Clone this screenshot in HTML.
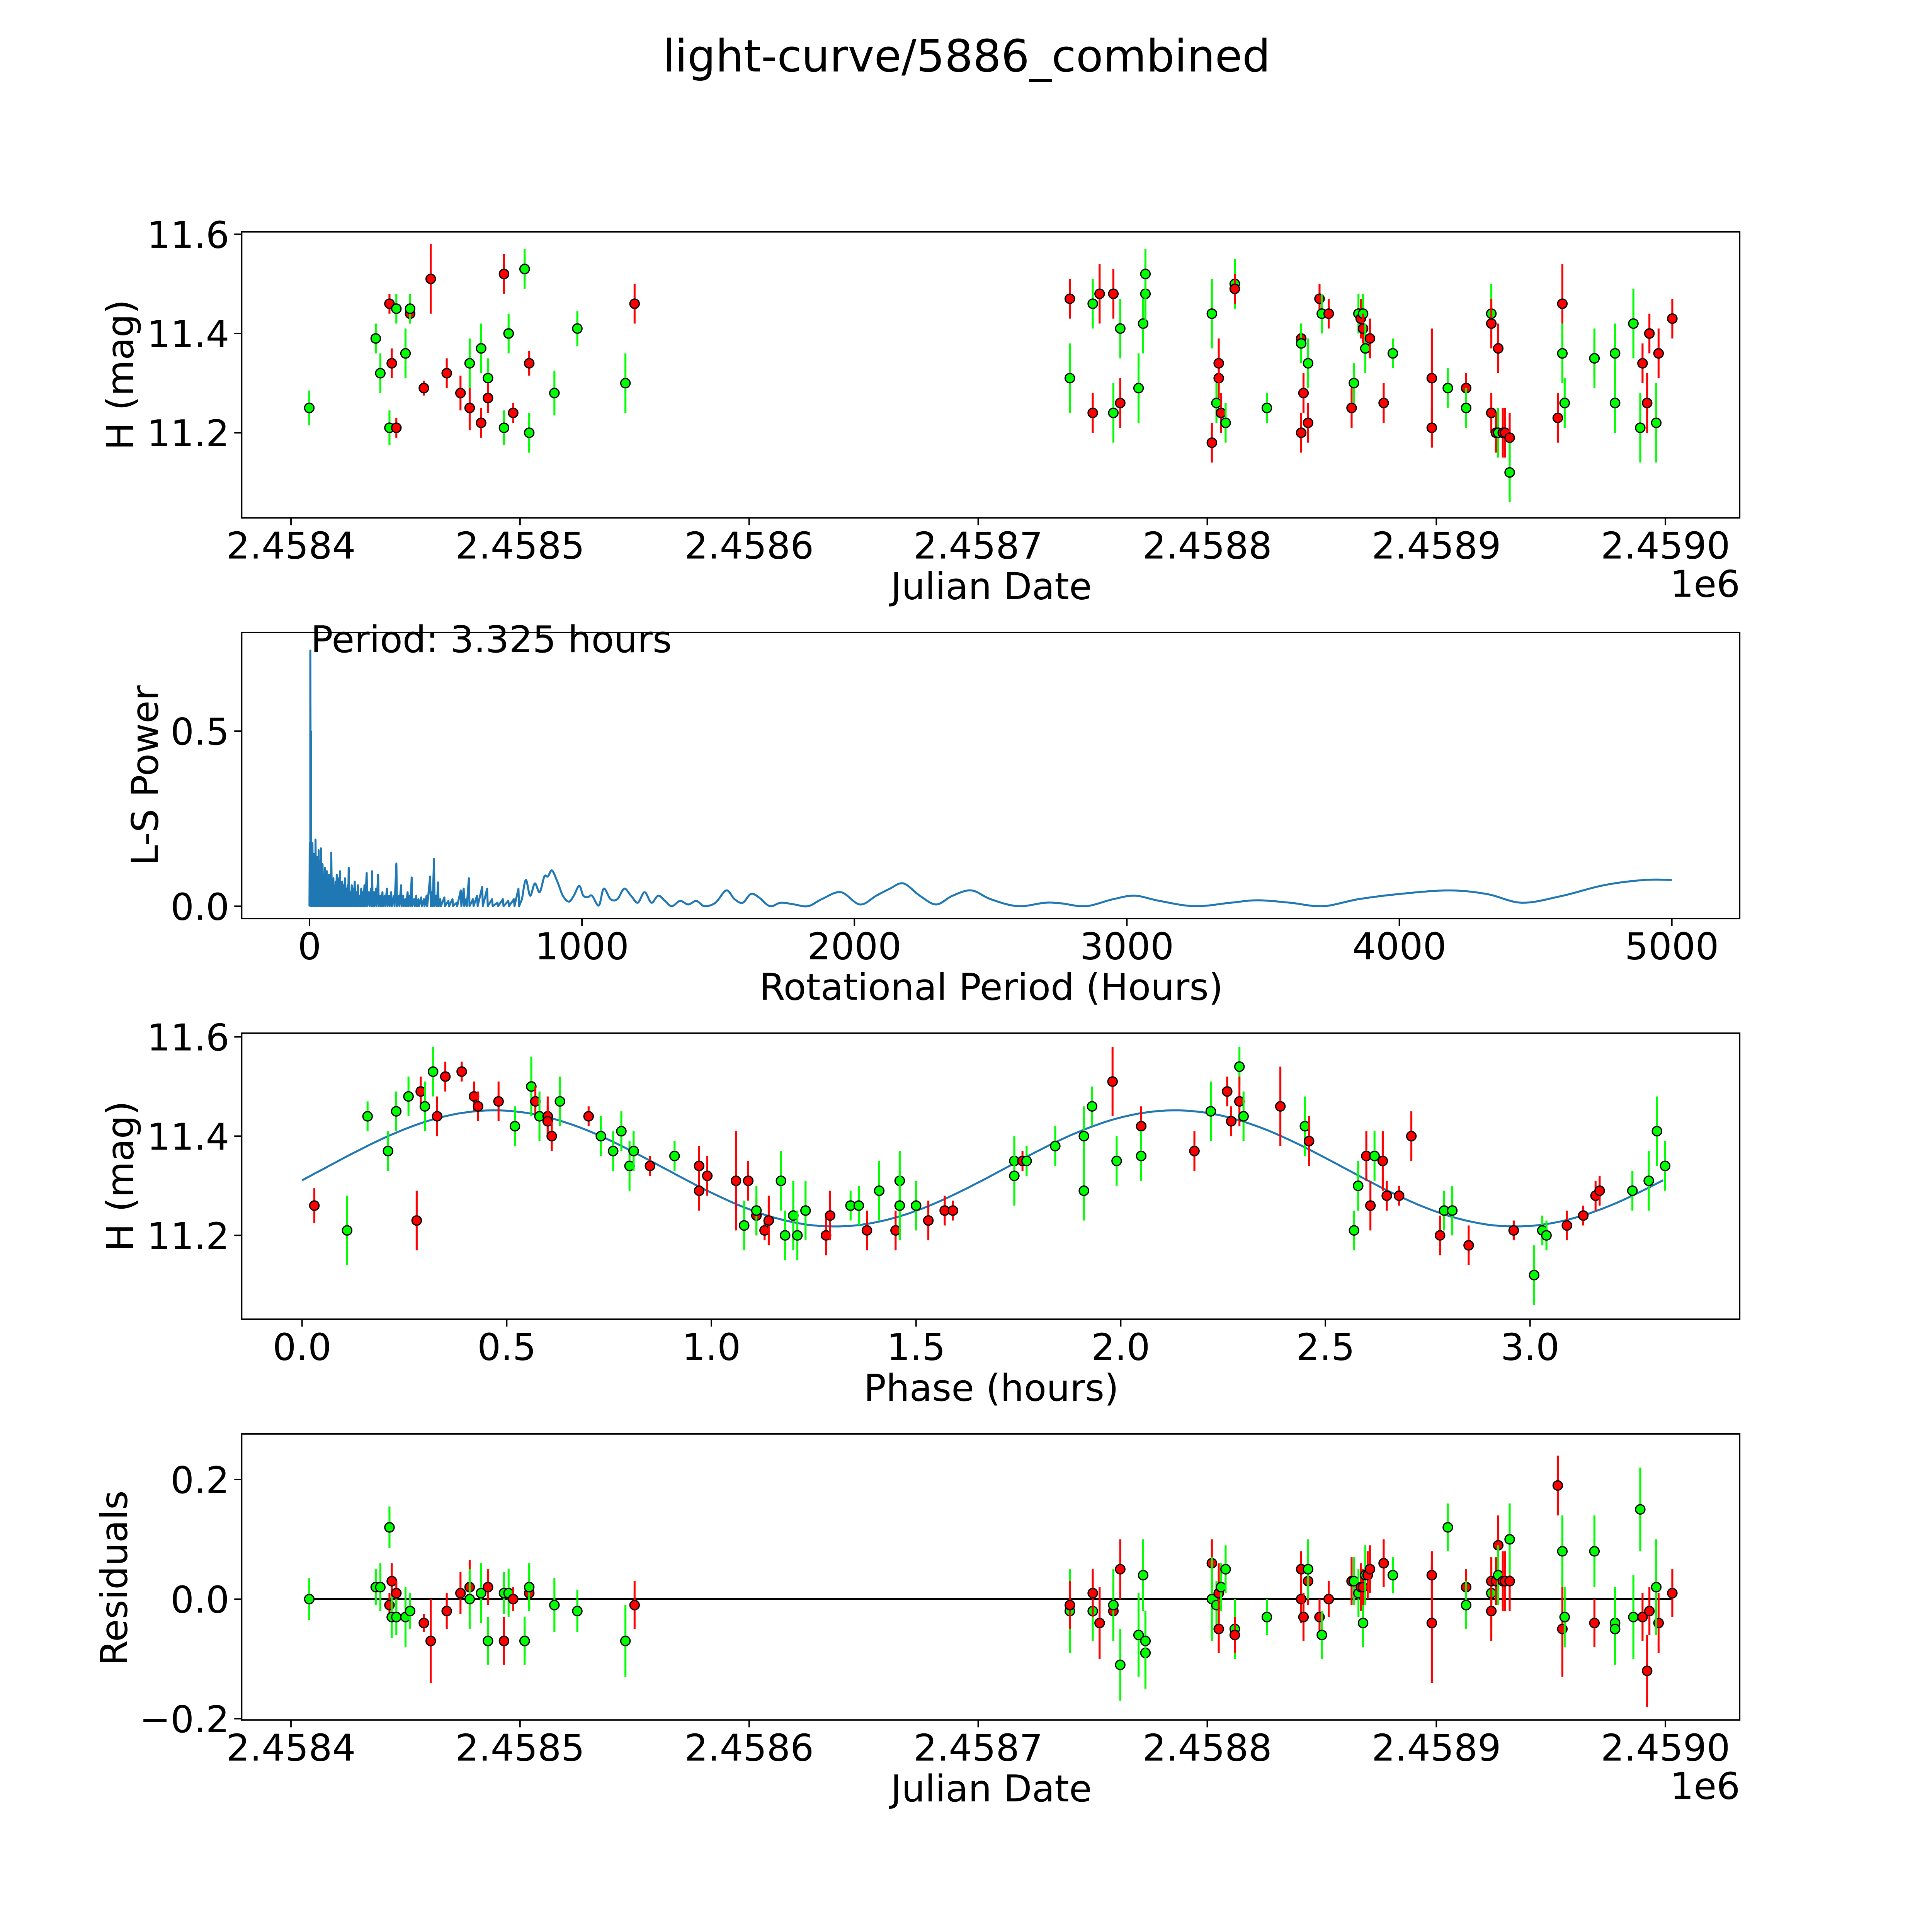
<!DOCTYPE html>
<html><head><meta charset="utf-8"><style>
html,body{margin:0;padding:0;background:#fff;overflow:hidden;width:100vw;height:100vh}
svg{display:block;width:100vw;height:100vh;font-family:"DejaVu Sans","Liberation Sans",sans-serif}
</style></head><body>
<svg id="fig" viewBox="0 0 1567 1567" preserveAspectRatio="none" xmlns="http://www.w3.org/2000/svg">
<rect width="1567" height="1567" fill="#fff"/>
<text x="784" y="58" font-size="36" text-anchor="middle">light-curve/5886_combined</text>
</svg>
<script>
// ---------- DATA ----------
const jdTicks = [0,100,200,300,400,500,600];
const jdTickLabels = ["2.4584","2.4585","2.4586","2.4587","2.4588","2.4589","2.4590"];
const magTicks = [11.6,11.4,11.2];
const magTickLabels = ["11.6","11.4","11.2"];
// light curve: [days since 2458400, mag, err, color]
const lcPoints = [
[8,11.25,0.035,'g'],[37,11.39,0.03,'g'],[39,11.32,0.04,'g'],[43,11.46,0.02,'r'],[43,11.21,0.035,'g'],[44,11.34,0.03,'r'],[46,11.21,0.02,'r'],[46,11.45,0.03,'g'],[50,11.36,0.05,'g'],[52,11.44,0.02,'r'],[52,11.45,0.03,'g'],
[58,11.29,0.015,'r'],[61,11.51,0.07,'r'],[68,11.32,0.03,'r'],[74,11.28,0.035,'r'],[78,11.25,0.045,'r'],[78,11.34,0.05,'g'],[83,11.22,0.03,'r'],[83,11.37,0.05,'g'],[86,11.31,0.04,'g'],[86,11.27,0.03,'r'],
[93,11.21,0.035,'g'],[93,11.52,0.04,'r'],[95,11.40,0.04,'g'],[97,11.24,0.02,'r'],[102,11.53,0.025,'r'],[102,11.53,0.04,'g'],[104,11.34,0.025,'r'],[104,11.20,0.04,'g'],[115,11.28,0.045,'g'],[125,11.41,0.035,'g'],[146,11.30,0.06,'g'],[150,11.46,0.04,'r'],
[340,11.47,0.04,'r'],[340,11.31,0.07,'g'],[350,11.46,0.05,'g'],[350,11.24,0.04,'r'],[353,11.48,0.06,'r'],[359,11.48,0.05,'r'],[359,11.24,0.06,'g'],[362,11.26,0.05,'r'],[362,11.41,0.06,'g'],[370,11.29,0.07,'g'],[372,11.42,0.06,'g'],[373,11.48,0.06,'g'],[373,11.52,0.05,'g'],
[402,11.44,0.07,'g'],[402,11.18,0.04,'r'],[404,11.26,0.04,'g'],[405,11.31,0.04,'r'],[405,11.34,0.05,'r'],[406,11.24,0.04,'r'],[408,11.22,0.04,'g'],[412,11.50,0.05,'g'],[412,11.49,0.03,'r'],[426,11.25,0.03,'g'],
[441,11.39,0.03,'r'],[441,11.38,0.04,'g'],[441,11.20,0.04,'r'],[442,11.28,0.04,'r'],[444,11.22,0.04,'r'],[444,11.34,0.05,'g'],[449,11.47,0.03,'r'],[450,11.44,0.04,'g'],[453,11.44,0.03,'r'],
[463,11.25,0.04,'r'],[464,11.30,0.04,'g'],[466,11.44,0.04,'g'],[467,11.43,0.04,'r'],[468,11.44,0.04,'g'],[468,11.41,0.03,'r'],[469,11.37,0.05,'g'],[471,11.39,0.04,'r'],[477,11.26,0.04,'r'],[481,11.36,0.03,'g'],
[498,11.31,0.1,'r'],[498,11.21,0.04,'r'],[505,11.29,0.04,'g'],[513,11.29,0.03,'r'],[513,11.25,0.04,'g'],[524,11.44,0.06,'g'],[524,11.42,0.05,'r'],[524,11.24,0.04,'r'],[527,11.37,0.05,'r'],[526,11.20,0.04,'r'],[527,11.20,0.05,'g'],[529,11.20,0.05,'r'],[530,11.20,0.05,'r'],[532,11.19,0.05,'r'],[532,11.12,0.06,'g'],
[553,11.23,0.05,'r'],[555,11.46,0.08,'r'],[555,11.36,0.06,'g'],[556,11.26,0.05,'g'],[569,11.35,0.04,'r'],[569,11.35,0.06,'g'],[578,11.36,0.06,'g'],[578,11.26,0.06,'g'],[586,11.42,0.07,'g'],[589,11.21,0.07,'g'],[590,11.34,0.04,'r'],[592,11.26,0.06,'r'],[593,11.40,0.04,'r'],[597,11.36,0.05,'r'],[596,11.22,0.08,'g'],[603,11.43,0.04,'r']
];
// periodogram
const periodTicks = [0,1000,2000,3000,4000,5000];
const powerTicks = [0.0,0.5];
const powerTickLabels = ["0.0","0.5"];
const densePeriod = [1,3,5,8,11,14,17,20,22,25,28,31,34,37,40,42,45,48,52,56,60,64,68,72,76,80,84,88,92,96,100,104,108,112,116,120,125,130,135,140,144,150,155,160,166,172,178,184,190,196,202,210,218,226,230,236,244,252,260,268,276,284,292,300,310,319,328,336,344,352,360,368,375,384,392,400,410,420,430,443,450,457,465,472,480,495,510,525,540,555,566,575,585,600,615,634,652,670,690,710,730,750,767];
const densePower  = [0.18,0.73,0.5,0.17,0.18,0.12,0.15,0.13,0.19,0.1,0.14,0.12,0.16,0.09,0.13,0.165,0.1,0.12,0.08,0.11,0.07,0.1,0.06,0.09,0.08,0.153,0.06,0.08,0.05,0.07,0.09,0.06,0.08,0.1,0.05,0.07,0.06,0.08,0.05,0.06,0.11,0.04,0.06,0.05,0.07,0.04,0.06,0.03,0.05,0.04,0.06,0.095,0.04,0.05,0.1,0.04,0.05,0.09,0.03,0.04,0.03,0.05,0.03,0.04,0.03,0.122,0.03,0.06,0.03,0.02,0.04,0.03,0.082,0.02,0.03,0.02,0.025,0.02,0.03,0.085,0.04,0.135,0.03,0.068,0.02,0.025,0.015,0.02,0.01,0.045,0.05,0.02,0.08,0.02,0.03,0.055,0.05,0.02,0.01,0.02,0.015,0.02,0.05];
const smoothPeriod = [780,794,810,827,845,862,875,890,910,930,952,970,990,1005,1022,1037,1062,1080,1105,1130,1155,1180,1205,1230,1255,1280,1305,1330,1360,1390,1420,1450,1490,1530,1560,1590,1620,1650,1690,1730,1780,1830,1880,1950,2020,2080,2130,2180,2240,2300,2360,2430,2500,2600,2700,2760,2850,2950,3030,3120,3250,3380,3480,3600,3720,3850,4000,4180,4320,4450,4600,4750,4900,5000];
const smoothPower  = [0.02,0.075,0.03,0.065,0.04,0.085,0.085,0.102,0.07,0.03,0.013,0.03,0.058,0.03,0.026,0.03,0.002,0.05,0.02,0.02,0.05,0.03,0.01,0.04,0.01,0.03,0.015,0.0,0.015,0.005,0.015,0.0,0.01,0.045,0.02,0.01,0.035,0.025,0.0,0.01,0.005,0.0,0.02,0.04,0.005,0.03,0.05,0.065,0.03,0.005,0.03,0.045,0.02,0.0,0.01,0.008,0.0,0.02,0.03,0.015,0.0,0.01,0.017,0.01,0.0,0.02,0.035,0.045,0.035,0.01,0.03,0.06,0.075,0.075];
// phase folded
const phaseTicks = [0,0.5,1,1.5,2,2.5,3];
const phaseTickLabels = ["0.0","0.5","1.0","1.5","2.0","2.5","3.0"];
const periodHours = [3.325];
const fitParams = [11.335,0.117,0.47]; // mean, amplitude, phase of max
const phasePoints = [
[0.03,11.26,0.035,'r'],[0.11,11.21,0.07,'g'],[0.16,11.44,0.03,'g'],[0.21,11.37,0.04,'g'],[0.23,11.45,0.04,'g'],[0.26,11.48,0.04,'g'],[0.29,11.49,0.03,'r'],[0.28,11.23,0.06,'r'],[0.30,11.46,0.05,'g'],[0.32,11.53,0.05,'g'],[0.33,11.44,0.04,'r'],[0.35,11.52,0.03,'r'],[0.39,11.53,0.02,'r'],[0.42,11.48,0.03,'r'],[0.43,11.46,0.03,'r'],[0.48,11.47,0.04,'r'],[0.52,11.42,0.04,'g'],[0.56,11.50,0.06,'g'],[0.57,11.47,0.03,'r'],[0.58,11.44,0.05,'g'],[0.60,11.44,0.04,'r'],[0.60,11.43,0.03,'r'],[0.61,11.40,0.03,'r'],[0.63,11.47,0.05,'g'],
[0.70,11.44,0.02,'r'],[0.73,11.40,0.04,'g'],[0.76,11.37,0.04,'g'],[0.78,11.41,0.04,'g'],[0.80,11.34,0.05,'g'],[0.81,11.37,0.04,'g'],[0.85,11.34,0.02,'r'],[0.91,11.36,0.03,'g'],[0.97,11.34,0.04,'r'],[0.97,11.29,0.04,'r'],[0.99,11.32,0.04,'r'],[1.06,11.31,0.1,'r'],[1.08,11.22,0.05,'g'],[1.09,11.31,0.04,'r'],[1.11,11.24,0.04,'r'],[1.11,11.25,0.05,'g'],[1.13,11.21,0.02,'r'],[1.14,11.23,0.05,'r'],[1.17,11.31,0.06,'g'],[1.18,11.20,0.05,'g'],[1.20,11.24,0.07,'g'],[1.21,11.20,0.05,'g'],[1.23,11.25,0.06,'g'],
[1.28,11.20,0.04,'r'],[1.29,11.24,0.05,'r'],[1.34,11.26,0.03,'g'],[1.36,11.26,0.04,'g'],[1.38,11.21,0.04,'r'],[1.41,11.29,0.06,'g'],[1.45,11.21,0.04,'r'],[1.46,11.31,0.06,'g'],[1.46,11.26,0.07,'g'],[1.50,11.26,0.05,'g'],[1.53,11.23,0.04,'r'],[1.57,11.25,0.03,'r'],[1.59,11.25,0.02,'r'],
[1.74,11.35,0.05,'g'],[1.74,11.32,0.06,'g'],[1.76,11.35,0.02,'r'],[1.77,11.35,0.03,'g'],[1.84,11.38,0.04,'g'],[1.91,11.29,0.06,'g'],[1.91,11.40,0.06,'g'],[1.93,11.46,0.04,'g'],[1.99,11.35,0.05,'g'],[1.98,11.51,0.07,'r'],[2.05,11.42,0.04,'r'],[2.05,11.36,0.05,'g'],[2.18,11.37,0.04,'r'],[2.22,11.45,0.06,'g'],[2.26,11.49,0.03,'r'],[2.27,11.43,0.03,'r'],[2.29,11.54,0.04,'g'],[2.29,11.47,0.05,'r'],[2.30,11.44,0.05,'g'],[2.39,11.46,0.08,'r'],[2.45,11.42,0.06,'g'],[2.46,11.39,0.05,'r'],
[2.57,11.21,0.04,'g'],[2.58,11.30,0.05,'g'],[2.60,11.36,0.05,'r'],[2.62,11.36,0.05,'g'],[2.61,11.26,0.05,'r'],[2.64,11.35,0.06,'r'],[2.65,11.28,0.03,'r'],[2.68,11.28,0.02,'r'],[2.71,11.40,0.05,'r'],[2.78,11.20,0.04,'r'],[2.79,11.25,0.04,'g'],[2.81,11.25,0.05,'g'],[2.85,11.18,0.04,'r'],[2.96,11.21,0.02,'r'],[3.01,11.12,0.06,'g'],[3.03,11.21,0.03,'g'],[3.04,11.20,0.03,'g'],[3.09,11.22,0.03,'r'],[3.13,11.24,0.02,'r'],[3.16,11.28,0.03,'r'],[3.17,11.29,0.03,'r'],[3.25,11.29,0.04,'g'],[3.29,11.31,0.06,'g'],[3.31,11.41,0.07,'g'],[3.33,11.34,0.05,'g']
];
// residuals
const residTicks = [0.2,0.0,-0.2];
const residTickLabels = ["0.2","0.0","\u22120.2"];
const residPoints = [
[8,0.00,0.035,'g'],[37,0.02,0.03,'g'],[39,0.02,0.04,'g'],[43,0.12,0.035,'g'],[43,-0.01,0.02,'r'],[44,0.03,0.03,'r'],[44,-0.03,0.035,'g'],[46,0.01,0.02,'r'],[46,-0.03,0.03,'g'],[50,-0.03,0.05,'g'],[52,-0.02,0.02,'r'],[52,-0.02,0.03,'g'],
[58,-0.04,0.015,'r'],[61,-0.07,0.07,'r'],[68,-0.02,0.03,'r'],[74,0.01,0.035,'r'],[78,0.02,0.045,'r'],[78,0.00,0.05,'g'],[83,0.01,0.03,'r'],[83,0.01,0.05,'g'],[86,0.02,0.03,'r'],[86,-0.07,0.04,'g'],[93,-0.07,0.04,'r'],[93,0.01,0.035,'g'],[95,0.01,0.04,'g'],[97,0.00,0.02,'r'],[102,-0.07,0.025,'r'],[102,-0.07,0.04,'g'],[104,0.01,0.025,'r'],[104,0.02,0.04,'g'],[115,-0.01,0.045,'g'],[125,-0.02,0.035,'g'],[146,-0.07,0.06,'g'],[150,-0.01,0.04,'r'],
[340,-0.02,0.07,'g'],[340,-0.01,0.04,'r'],[350,-0.02,0.05,'g'],[350,0.01,0.04,'r'],[353,-0.04,0.06,'r'],[359,-0.02,0.05,'r'],[359,-0.01,0.06,'g'],[362,-0.11,0.06,'g'],[362,0.05,0.05,'r'],[370,-0.06,0.07,'g'],[372,0.04,0.06,'g'],[373,-0.09,0.06,'g'],[373,-0.07,0.05,'g'],
[402,0.06,0.04,'r'],[402,0.00,0.07,'g'],[404,-0.01,0.04,'g'],[405,0.01,0.05,'r'],[405,-0.05,0.04,'r'],[406,0.02,0.04,'g'],[408,0.05,0.04,'g'],[412,-0.05,0.05,'g'],[412,-0.06,0.03,'r'],[426,-0.03,0.03,'g'],
[441,0.05,0.03,'r'],[441,0.00,0.04,'g'],[441,0.00,0.04,'r'],[442,-0.03,0.04,'r'],[444,0.03,0.04,'r'],[444,0.05,0.05,'g'],[449,-0.03,0.03,'r'],[450,-0.06,0.04,'g'],[453,0.00,0.03,'r'],
[463,0.03,0.04,'r'],[464,0.03,0.04,'g'],[466,0.01,0.04,'g'],[467,0.02,0.04,'r'],[468,-0.04,0.04,'g'],[468,0.02,0.03,'r'],[469,0.04,0.05,'g'],[470,0.04,0.04,'r'],[471,0.05,0.04,'r'],[477,0.06,0.04,'r'],[481,0.04,0.03,'g'],
[498,-0.04,0.1,'r'],[498,0.04,0.04,'r'],[505,0.12,0.04,'g'],[513,0.02,0.03,'r'],[513,-0.01,0.04,'g'],[524,0.01,0.06,'g'],[524,-0.02,0.05,'r'],[524,0.03,0.04,'r'],[527,0.09,0.05,'r'],[526,0.03,0.04,'r'],[527,0.04,0.05,'g'],[529,0.03,0.05,'r'],[530,0.03,0.05,'r'],[532,0.03,0.05,'r'],[532,0.10,0.06,'g'],
[553,0.19,0.05,'r'],[555,-0.05,0.08,'r'],[555,0.08,0.06,'g'],[556,-0.03,0.05,'g'],[569,-0.04,0.04,'r'],[569,0.08,0.06,'g'],[578,-0.04,0.06,'g'],[578,-0.05,0.06,'g'],[586,-0.03,0.07,'g'],[589,0.15,0.07,'g'],[590,-0.03,0.04,'r'],[592,-0.12,0.06,'r'],[593,-0.02,0.04,'r'],[597,-0.04,0.05,'r'],[596,0.02,0.08,'g'],[603,0.01,0.04,'r']
];

// ---------- DRAW ----------
const NS="http://www.w3.org/2000/svg";
const svg=document.getElementById('fig');
function mk(tag,attrs,parent){const e=document.createElementNS(NS,tag);for(const k in attrs)e.setAttribute(k,attrs[k]);(parent||svg).appendChild(e);return e;}
const COL={g:'#00ff00',r:'#ff0000'};
const TICKFS=30, LABELFS=30;

const xJD=d=>236+d*1.858;
const yMag1=m=>190+(11.6-m)*402.5;
const xPer=p=>251+p*0.221;
const yPow=v=>735-v*284;
const xPh=p=>245+p*332;
const yMag3=m=>841+(11.6-m)*402.5;
const yRes=r=>1297-r*485;

function frame(name,x,y,w,h){
  const r=mk('rect',{x:x,y:y,width:w,height:h,fill:'none',stroke:'#000','stroke-width':1.2});
  
  
}
function xtick(px,yb,label,name){
  const l=mk('line',{x1:px,y1:yb,x2:px,y2:yb+6,stroke:'#000','stroke-width':1.2});
  
  
  const t=mk('text',{x:px,y:yb+33,'font-size':TICKFS,'text-anchor':'middle'});
  t.textContent=label;
  
  
}
function ytick(py,xl,label,name){
  const l=mk('line',{x1:xl-6,y1:py,x2:xl,y2:py,stroke:'#000','stroke-width':1.2});
  
  
  const t=mk('text',{x:xl-10,y:py+11,'font-size':TICKFS,'text-anchor':'end'});
  t.textContent=label;
  
  
}
function label(x,y,txt,name,rot){
  const t=mk('text',{x:x,y:y,'font-size':LABELFS,'text-anchor':'middle'});
  if(rot)t.setAttribute('transform','rotate(-90 '+x+' '+y+')');
  t.textContent=txt;
  
  
}
function errPoint(px,py,pyTop,pyBot,c,name){
  const g=mk('g',{});
  
  
  mk('line',{x1:px,y1:pyTop,x2:px,y2:pyBot,stroke:COL[c],'stroke-width':1.6},g);
  mk('circle',{cx:px,cy:py,r:3.8,fill:COL[c],stroke:'#000','stroke-width':1},g);
}

// Panel 1
frame('light-curve-axes',196,188,1215,232);
jdTicks.forEach((d,i)=>xtick(xJD(d),420,jdTickLabels[i],'jd-x'));
magTicks.forEach((m,i)=>ytick(yMag1(m),196,magTickLabels[i],'mag-y'));
label(804,486,'Julian Date','x-axis-title-jd');
label(1383,484,'1e6','x-offset-label');
label(108,304,'H (mag)','y-axis-title-mag',true);
lcPoints.forEach(p=>errPoint(xJD(p[0]),yMag1(p[1]),yMag1(p[1]+p[2]),yMag1(p[1]-p[2]),p[3],'lc-point'));

// Panel 2
frame('periodogram-axes',196,513,1215,232);
periodTicks.forEach(p=>xtick(xPer(p),745,String(p),'period-x'));
powerTicks.forEach((v,i)=>ytick(yPow(v),196,powerTickLabels[i],'power-y'));
label(804,811,'Rotational Period (Hours)','x-axis-title-period');
label(128,629,'L-S Power','y-axis-title-power',true);
{
  let d='M'+xPer(0).toFixed(1)+','+yPow(0).toFixed(1);
  densePeriod.forEach((p,i)=>{d+=' L'+xPer(p).toFixed(1)+','+yPow(densePower[i]).toFixed(1)+' L'+(xPer(p)+0.5).toFixed(1)+','+yPow(0).toFixed(1);});
  const P=smoothPeriod.map((p,i)=>[xPer(p),yPow(smoothPower[i])]);
  d+=' L'+P[0][0].toFixed(1)+','+P[0][1].toFixed(1);
  for(let i=0;i<P.length-1;i++){
    const p0=P[Math.max(0,i-1)],p1=P[i],p2=P[i+1],p3=P[Math.min(P.length-1,i+2)];
    const c1=[p1[0]+(p2[0]-p0[0])/6,p1[1]+(p2[1]-p0[1])/6];
    const c2=[p2[0]-(p3[0]-p1[0])/6,p2[1]-(p3[1]-p1[1])/6];
    d+=' C'+c1[0].toFixed(1)+','+c1[1].toFixed(1)+' '+c2[0].toFixed(1)+','+c2[1].toFixed(1)+' '+p2[0].toFixed(1)+','+p2[1].toFixed(1);
  }
  const pl=mk('path',{d:d,fill:'none',stroke:'#1f77b4','stroke-width':1.6,'stroke-linejoin':'round'});
  
  
}
{
  const t=mk('text',{x:252,y:529,'font-size':30});
  t.textContent='Period: '+periodHours[0].toFixed(3)+' hours';
  
  
}

// Panel 3
frame('phase-fold-axes',196,838,1215,232);
phaseTicks.forEach((p,i)=>xtick(xPh(p),1070,phaseTickLabels[i],'phase-x'));
magTicks.forEach((m,i)=>ytick(yMag3(m),196,magTickLabels[i],'mag3-y'));
label(804,1136,'Phase (hours)','x-axis-title-phase');
label(108,954,'H (mag)','y-axis-title-mag-phase',true);
{
  const pts=[];const P=periodHours[0];
  for(let k=0;k<=200;k++){const ph=P*k/200;const m=fitParams[0]+fitParams[1]*Math.cos(2*Math.PI*(ph-fitParams[2])/(P/2));pts.push(xPh(ph).toFixed(1)+','+yMag3(m).toFixed(1));}
  const pl=mk('polyline',{points:pts.join(' '),fill:'none',stroke:'#1f77b4','stroke-width':1.6});
  
  
}
phasePoints.forEach(p=>errPoint(xPh(p[0]),yMag3(p[1]),yMag3(p[1]+p[2]),yMag3(p[1]-p[2]),p[3],'phase-point'));

// Panel 4
frame('residuals-axes',196,1163,1215,232);
jdTicks.forEach((d,i)=>xtick(xJD(d),1395,jdTickLabels[i],'jd4-x'));
residTicks.forEach((r,i)=>ytick(yRes(r),196,residTickLabels[i],'resid-y'));
label(804,1461,'Julian Date','x-axis-title-jd-resid');
label(1383,1459,'1e6','x-offset-label-resid');
label(103,1280,'Residuals','y-axis-title-residuals',true);
{
  const l=mk('line',{x1:xJD(8),y1:yRes(0),x2:xJD(603),y2:yRes(0),stroke:'#000','stroke-width':1.6});
  
  
}
residPoints.forEach(p=>errPoint(xJD(p[0]),yRes(p[1]),yRes(p[1]+p[2]),yRes(p[1]-p[2]),p[3],'residual-point'));
</script>
</body></html>
